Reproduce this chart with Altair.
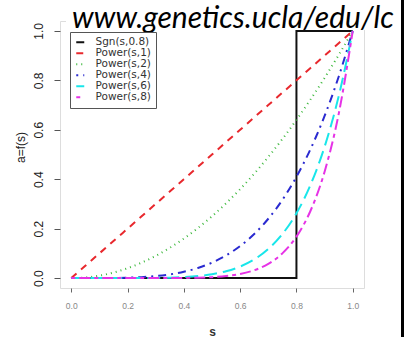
import altair as alt
import pandas as pd

# Grid of s values and the curve heights read for each transfer function
s_vals = [0.0, 0.05, 0.1, 0.15, 0.2, 0.25, 0.3, 0.35, 0.4, 0.45, 0.5,
          0.55, 0.6, 0.65, 0.7, 0.75, 0.8, 0.85, 0.9, 0.95, 1.0]
power1 = [0.0, 0.05, 0.1, 0.15, 0.2, 0.25, 0.3, 0.35, 0.4, 0.45, 0.5,
          0.55, 0.6, 0.65, 0.7, 0.75, 0.8, 0.85, 0.9, 0.95, 1.0]
power2 = [0.0, 0.0025, 0.01, 0.0225, 0.04, 0.0625, 0.09, 0.1225, 0.16, 0.2025, 0.25,
          0.3025, 0.36, 0.4225, 0.49, 0.5625, 0.64, 0.7225, 0.81, 0.9025, 1.0]
power4 = [0.0, 0.0, 0.0001, 0.0005, 0.0016, 0.0039, 0.0081, 0.015, 0.0256, 0.041, 0.0625,
          0.0915, 0.1296, 0.1785, 0.2401, 0.3164, 0.4096, 0.522, 0.6561, 0.8145, 1.0]
power6 = [0.0, 0.0, 0.0, 0.0, 0.0001, 0.0002, 0.0007, 0.0018, 0.0041, 0.0083, 0.0156,
          0.0277, 0.0467, 0.0754, 0.1176, 0.178, 0.2621, 0.3771, 0.5314, 0.7351, 1.0]
power8 = [0.0, 0.0, 0.0, 0.0, 0.0, 0.0, 0.0001, 0.0002, 0.0007, 0.0017, 0.0039,
          0.0084, 0.0168, 0.0319, 0.0576, 0.1001, 0.1678, 0.2725, 0.4305, 0.6634, 1.0]

# Hard threshold at 0.8
sgn_s = [0.0, 0.8, 0.8, 1.0]
sgn_a = [0.0, 0.0, 1.0, 1.0]

series_names = ["Sgn(s,0.8)", "Power(s,1)", "Power(s,2)",
                "Power(s,4)", "Power(s,6)", "Power(s,8)"]
series_colors = ["#111111", "#e8282d", "#3cb83c", "#2a2ad0", "#18e6ea", "#e632e6"]
series_dashes = [[1, 0], [7, 6], [1, 4], [2, 5, 8, 5], [13, 6], [4, 4, 11, 4]]

x_ticks = [0.0, 0.2, 0.4, 0.6, 0.8, 1.0]
y_ticks = [0.0, 0.2, 0.4, 0.6, 0.8, 1.0]
url_text = ["www.genetics.ucla/edu/lc"]

rows = []
for s, a in zip(sgn_s, sgn_a):
    rows.append({"s": s, "a": a, "series": series_names[0], "ord": 0})
for k, vals in enumerate([power1, power2, power4, power6, power8], start=1):
    for s, a in zip(s_vals, vals):
        rows.append({"s": s, "a": a, "series": series_names[k], "ord": k})
df = pd.DataFrame(rows)

x_scale = alt.Scale(domain=[-0.04, 1.04], nice=False, zero=False)
y_scale = alt.Scale(domain=[-0.04, 1.04], nice=False, zero=False)

legend_opts = dict(title=None, orient="none", legendX=10, legendY=11,
                   symbolType="stroke", symbolStrokeWidth=2, symbolSize=64,
                   labelFont="DejaVu Sans", labelFontSize=10.5,
                   labelColor="#333333", labelOffset=10,
                   rowPadding=-6, padding=5,
                   strokeColor="#555555", fillColor="white")

lines = alt.Chart(df).mark_line(strokeWidth=2, interpolate="monotone", strokeCap="butt").encode(
    x=alt.X("s:Q", scale=x_scale,
            axis=alt.Axis(values=x_ticks, format=".1f", title="s",
                          labelFont="Liberation Sans", labelFontSize=8.5, labelColor="#888888",
                          tickSize=4, tickColor="#666666", labelPadding=9,
                          domain=False, grid=False,
                          titleFont="Liberation Sans", titleFontSize=12, titleFontWeight="bold",
                          titleColor="#333333", titleX=152, titleY=43,
                          titleBaseline="middle", titleAlign="center")),
    y=alt.Y("a:Q", scale=y_scale,
            axis=alt.Axis(values=y_ticks, format=".1f", title="a=f(s)",
                          labelFont="Liberation Sans", labelFontSize=12, labelColor="#222222",
                          labelAngle=270, labelAlign="center", labelBaseline="bottom",
                          tickSize=6, tickColor="#555555", labelPadding=9,
                          domain=False, grid=False,
                          titleFont="Liberation Sans", titleFontSize=12, titleFontWeight="normal",
                          titleColor="#222222", titleAngle=270, titleX=-40, titleY=126,
                          titleBaseline="middle", titleAlign="center")),
    color=alt.Color("series:N",
                    scale=alt.Scale(domain=series_names, range=series_colors),
                    legend=alt.Legend(**legend_opts)),
    strokeDash=alt.StrokeDash("series:N",
                              scale=alt.Scale(domain=series_names, range=series_dashes),
                              legend=alt.Legend(**legend_opts)),
    order="ord:O",
    detail="series:N",
)

# White band behind the web address, running off the right edge
band = alt.Chart(pd.DataFrame({"t": url_text})).mark_rect(color="white").encode(
    x=alt.value(6), x2=alt.value(345), y=alt.value(-25), y2=alt.value(9)
)
url = alt.Chart(pd.DataFrame({"t": url_text})).mark_text(
    font="Lato", fontStyle="italic", fontSize=30, align="left", baseline="alphabetic",
    color="#000000"
).encode(x=alt.value(12), y=alt.value(7), text="t:N")

# Slide edge bar on the far right
edge = alt.Chart(pd.DataFrame({"t": url_text})).mark_rect(color="#000000").encode(
    x=alt.value(341), x2=alt.value(346), y=alt.value(-25), y2=alt.value(320)
)

chart = alt.layer(lines, band, url, edge).properties(
    width=304, height=267,
    autosize=alt.AutoSizeParams(type="none"),
    padding={"left": 60, "top": 21, "right": 40, "bottom": 49},
).configure_view(
    stroke="#8a8a8a", strokeWidth=1.5
).configure(background="white")

chart.save("out.html", embed_options={"renderer": "svg", "actions": False})
